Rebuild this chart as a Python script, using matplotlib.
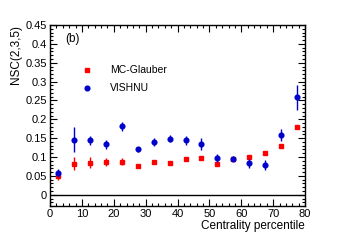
import matplotlib
matplotlib.use("Agg")
import matplotlib.pyplot as plt
from matplotlib.ticker import MultipleLocator

plt.rcParams["font.family"] = ["Liberation Sans", "DejaVu Sans"]

centrality = [2.5, 7.5, 12.5, 17.5, 22.5, 27.5, 32.5, 37.5, 42.5, 47.5,
              52.5, 57.5, 62.5, 67.5, 72.5, 77.5]

glauber = [0.050, 0.082, 0.085, 0.087, 0.088, 0.075, 0.087, 0.084, 0.096, 0.098,
           0.081, 0.095, 0.101, 0.110, 0.128, 0.179]
glauber_err = [0.010, 0.017, 0.014, 0.010, 0.010, 0.004, 0.004, 0.004, 0.004, 0.005,
               0.004, 0.004, 0.004, 0.004, 0.004, 0.004]

vishnu = [0.057, 0.146, 0.144, 0.134, 0.181, 0.120, 0.140, 0.149, 0.144, 0.134,
          0.098, 0.096, 0.083, 0.079, 0.158, 0.258]
vishnu_err = [0.010, 0.033, 0.013, 0.012, 0.012, 0.007, 0.011, 0.010, 0.012, 0.016,
              0.010, 0.007, 0.012, 0.014, 0.016, 0.033]

RED = "red"
BLUE = "#0000cc"

fig = plt.figure(figsize=(3.39, 2.43), dpi=100)
ax = fig.add_axes([0.1475, 0.152, 0.7525, 0.745])

ax.axhline(0, color="black", linewidth=1.0, zorder=1)

ax.errorbar(centrality, glauber, yerr=glauber_err, fmt="s", color=RED,
            markersize=2.8, elinewidth=1.0, capsize=0, zorder=3)
ax.errorbar(centrality, vishnu, yerr=vishnu_err, fmt="o", color=BLUE,
            markersize=3.4, elinewidth=1.0, capsize=0, zorder=4)

ax.set_xlim(0, 80)
ax.set_ylim(-0.03, 0.45)
ax.xaxis.set_major_locator(MultipleLocator(10))
ax.xaxis.set_minor_locator(MultipleLocator(2))
ax.yaxis.set_major_locator(MultipleLocator(0.05))
ax.yaxis.set_minor_locator(MultipleLocator(0.01))
ax.yaxis.set_major_formatter(plt.FuncFormatter(lambda v, p: f"{v:g}" if abs(v) > 1e-9 else "0"))

ax.tick_params(which="both", direction="in", top=True, right=True, labelsize=8, pad=2)
ax.tick_params(which="major", length=5, width=0.8)
ax.tick_params(which="minor", length=2.5, width=0.8)
for spine in ax.spines.values():
    spine.set_linewidth(1.0)

ax.set_xlabel("Centrality percentile", fontsize=8.5, loc="right", labelpad=1)
ax.set_ylabel("NSC(2,3,5)", fontsize=8.5, loc="top", labelpad=3)

ax.text(0.058, 0.955, "(b)", transform=ax.transAxes, fontsize=8.5, va="top")

# hand-placed legend, ROOT style
ax.plot([11.6], [0.330], "s", color=RED, markersize=2.8)
ax.plot([11.6], [0.283], "o", color=BLUE, markersize=3.4)
ax.text(18.8, 0.330, "MC-Glauber", fontsize=7.5, va="center")
ax.text(18.8, 0.283, "VISHNU", fontsize=7.5, va="center")

fig.savefig("out.png", dpi=100)
